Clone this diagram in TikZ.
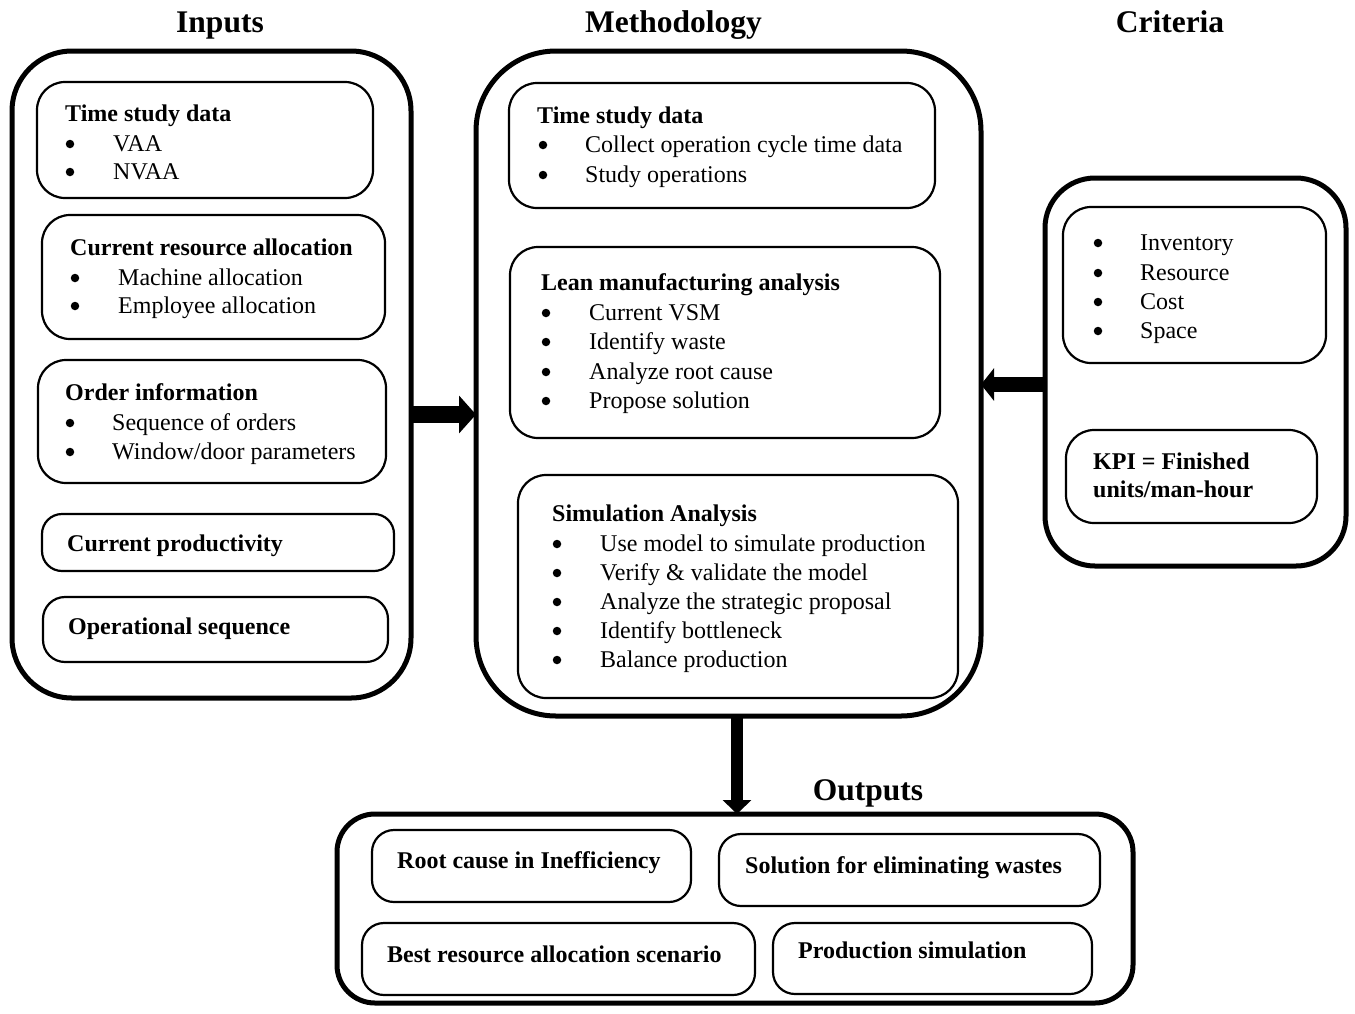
\documentclass[tikz,border=0pt]{standalone}
\usepackage{fontspec}
\setmainfont{Liberation Serif}
\usetikzlibrary{arrows.meta}

\tikzset{
  outerbox/.style={draw, line width=5pt, inner sep=0pt, outer sep=0pt},
  ibox/.style={draw, line width=2.2pt, rounded corners=28pt, inner sep=0pt, outer sep=0pt},
  head/.style={anchor=base, font=\fontsize{31.5}{36}\selectfont\bfseries, inner sep=0pt},
  ttl/.style={anchor=base west, font=\fontsize{24}{29}\selectfont\bfseries, inner sep=0pt},
  itm/.style={anchor=base west, font=\fontsize{24}{29}\selectfont, inner sep=0pt},
  bul/.style={circle, fill, draw=none, inner sep=0pt, minimum size=8.5pt, yshift=7pt},
}

\begin{document}
\begin{tikzpicture}[x=1pt, y=-1pt]
\useasboundingbox (0,0) rectangle (1355,1013);

% column headings
\node[head] (hin)   at (220,32)   {Inputs};
\node[head] (hmeth) at (673.5,32) {Methodology};
\node[head] (hcrit) at (1170,32)  {Criteria};
\node[head] (hout)  at (868,800)  {Outputs};

% group frames
\node[outerbox, rounded corners=60pt, minimum width=399pt, minimum height=647pt] (inputs) at (211.5,374.5) {};
\node[outerbox, rounded corners=80pt, minimum width=505pt, minimum height=665pt] (meth) at (728.5,383.5) {};
\node[outerbox, rounded corners=50pt, minimum width=301pt, minimum height=388pt] (crit) at (1195.5,372) {};
\node[outerbox, rounded corners=38pt, minimum width=796pt, minimum height=189pt] (outputs) at (735,908.5) {};

% ---- Inputs ----
\node[ibox, minimum width=336pt, minimum height=116pt] (i1) at (205,140) {};
\node[ttl] (i1t) at (65,121) {Time study data};
\node[bul] (i1b1) at (70,151) {}; \node[itm] (i1a) at (113,151) {VAA};
\node[bul] (i1b2) at (70,179) {}; \node[itm] (i1b) at (113,179) {NVAA};

\node[ibox, minimum width=343pt, minimum height=124pt] (i2) at (213.5,277) {};
\node[ttl] (i2t) at (70,255) {Current resource allocation};
\node[bul] (i2b1) at (75,285) {}; \node[itm] (i2a) at (118,285) {Machine allocation};
\node[bul] (i2b2) at (75,313) {}; \node[itm] (i2b) at (118,313) {Employee allocation};

\node[ibox, minimum width=348pt, minimum height=123pt] (i3) at (212,421.5) {};
\node[ttl] (i3t) at (65,400) {Order information};
\node[bul] (i3b1) at (70,430) {}; \node[itm] (i3a) at (112,430) {Sequence of orders};
\node[bul] (i3b2) at (70,459) {}; \node[itm] (i3b) at (112,459) {Window/door parameters};

\node[ibox, rounded corners=20pt, minimum width=352pt, minimum height=57pt] (i4) at (218,542.5) {};
\node[ttl] (i4t) at (67,551) {Current productivity};

\node[ibox, rounded corners=22pt, minimum width=345pt, minimum height=65pt] (i5) at (215.5,629.5) {};
\node[ttl] (i5t) at (68,634) {Operational sequence};

% ---- Methodology ----
\node[ibox, minimum width=426pt, minimum height=125pt] (m1) at (722,145.5) {};
\node[ttl] (m1t) at (537,123) {Time study data};
\node[bul] (m1b1) at (543,152) {}; \node[itm] (m1a) at (585,152) {Collect operation cycle time data};
\node[bul] (m1b2) at (543,182) {}; \node[itm] (m1b) at (585,182) {Study operations};

\node[ibox, minimum width=430pt, minimum height=191pt] (m2) at (725,342.5) {};
\node[ttl] (m2t) at (541,290) {Lean manufacturing analysis};
\node[bul] (m2b1) at (546,320) {}; \node[itm] (m2a) at (589,320) {Current VSM};
\node[bul] (m2b2) at (546,349) {}; \node[itm] (m2b) at (589,349) {Identify waste};
\node[bul] (m2b3) at (546,379) {}; \node[itm] (m2c) at (589,379) {Analyze root cause};
\node[bul] (m2b4) at (546,408) {}; \node[itm] (m2d) at (589,408) {Propose solution};

\node[ibox, minimum width=440pt, minimum height=223pt] (m3) at (738,586.5) {};
\node[ttl] (m3t) at (552,521) {Simulation Analysis};
\node[bul] (m3b1) at (557,551) {}; \node[itm] (m3a) at (600,551) {Use model to simulate production};
\node[bul] (m3b2) at (557,580) {}; \node[itm] (m3b) at (600,580) {Verify \& validate the model};
\node[bul] (m3b3) at (557,609) {}; \node[itm] (m3c) at (600,609) {Analyze the strategic proposal};
\node[bul] (m3b4) at (557,638) {}; \node[itm] (m3d) at (600,638) {Identify bottleneck};
\node[bul] (m3b5) at (557,667) {}; \node[itm] (m3e) at (600,667) {Balance production};

% ---- Criteria ----
\node[ibox, minimum width=263pt, minimum height=156pt] (c1) at (1194.5,285) {};
\node[bul] (c1b1) at (1098,250) {}; \node[itm] (c1a) at (1140,250) {Inventory};
\node[bul] (c1b2) at (1098,280) {}; \node[itm] (c1b) at (1140,280) {Resource};
\node[bul] (c1b3) at (1098,309) {}; \node[itm] (c1c) at (1140,309) {Cost};
\node[bul] (c1b4) at (1098,338) {}; \node[itm] (c1d) at (1140,338) {Space};

\node[ibox, minimum width=251pt, minimum height=93pt] (c2) at (1191.5,476.5) {};
\node[ttl] (c2a) at (1093,469) {KPI = Finished};
\node[ttl] (c2b) at (1093,497) {units/man-hour};

% ---- Outputs ----
\node[ibox, rounded corners=22pt, minimum width=319pt, minimum height=72pt] (o1) at (531.5,866) {};
\node[ttl] (o1t) at (397,868) {Root cause in Inefficiency};
\node[ibox, rounded corners=22pt, minimum width=381pt, minimum height=72pt] (o2) at (909.5,870) {};
\node[ttl] (o2t) at (745,873) {Solution for eliminating wastes};
\node[ibox, rounded corners=22pt, minimum width=393pt, minimum height=72pt] (o3) at (558.5,959) {};
\node[ttl] (o3t) at (387,962) {Best resource allocation scenario};
\node[ibox, rounded corners=22pt, minimum width=319pt, minimum height=71pt] (o4) at (932.5,958.5) {};
\node[ttl] (o4t) at (798,958) {Production simulation};

% ---- block arrows between the frames ----
\coordinate (row1) at (0,414.5);
\coordinate (row2) at (0,384.5);
\coordinate (col3) at (737,0);
\draw[line width=17pt, -{Triangle[length=17pt 0 0, width=37pt 0 0]}]
  (inputs.east |- row1) -- (meth.west |- row1);
\draw[line width=15pt, -{Triangle[length=13pt 0 0, width=32pt 0 0]}]
  (crit.west |- row2) -- (meth.east |- row2);
\draw[line width=12pt, -{Triangle[length=14pt 0 0, width=28pt 0 0]}]
  (meth.south -| col3) -- (outputs.north -| col3);
\end{tikzpicture}
\end{document}
